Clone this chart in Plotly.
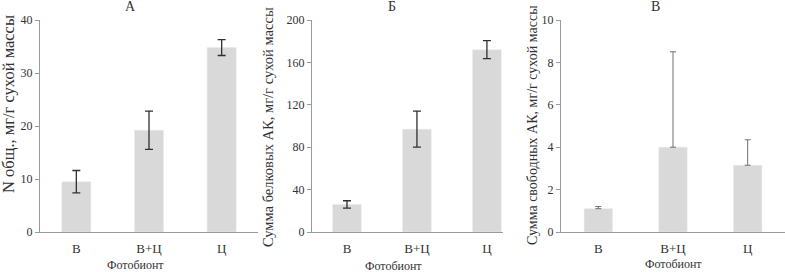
import plotly.graph_objects as go

categories = ["В", "В+Ц", "Ц"]

n_total = [9.5, 19.2, 34.8]
n_total_err = [2.1, 3.6, 1.5]

protein_aa = [26, 97, 172]
protein_aa_err = [3.5, 17, 8.5]

free_aa = [1.1, 4.0, 3.15]
free_aa_err_plus = [0.1, 4.5, 1.2]

panel_titles = ["А", "Б", "В"]
x_title = "Фотобионт"
y_titles = ["N общ., мг/г сухой массы",
            "Сумма белковых АК, мг/г сухой массы",
            "Сумма свободных АК, мг/г сухой массы"]
y_ticks = [[0, 10, 20, 30, 40], [0, 40, 80, 120, 160, 200], [0, 2, 4, 6, 8, 10]]
y_ranges = [[0, 40], [0, 200], [0, 10]]

W, H = 785, 272
FONT = "Liberation Serif"
TXT = "#333333"
BAR = "#d9d9d9"
AXC = "#9a9a9a"

def px(x):
    return x / W

def py(y):
    return 1 - y / H

fig = go.Figure()

x_domains = [[px(40), px(258)], [px(312), px(503)], [px(561), px(785)]]
x_ranges = [[-0.5, 2.5], [-0.5, 2.23], [-0.5, 2.5]]
y_domain = [py(232), py(20)]

fig.add_trace(go.Bar(x=categories, y=n_total, width=0.4, marker_color=BAR,
                     error_y=dict(type="data", array=n_total_err, color="#303030",
                                  thickness=1.3, width=4),
                     xaxis="x", yaxis="y", showlegend=False))
fig.add_trace(go.Bar(x=categories, y=protein_aa, width=0.41, marker_color=BAR,
                     error_y=dict(type="data", array=protein_aa_err, color="#303030",
                                  thickness=1.3, width=4),
                     xaxis="x2", yaxis="y2", showlegend=False))
fig.add_trace(go.Bar(x=categories, y=free_aa, width=0.38, marker_color=BAR,
                     error_y=dict(type="data", array=free_aa_err_plus,
                                  arrayminus=[0, 0, 0], symmetric=False,
                                  color="#707070", thickness=1, width=3),
                     xaxis="x3", yaxis="y3", showlegend=False))

layout = dict(
    width=W, height=H,
    margin=dict(l=0, r=0, t=0, b=0, autoexpand=False),
    plot_bgcolor="white", paper_bgcolor="white",
    font=dict(family=FONT, size=12, color=TXT),
    showlegend=False,
)

for i in range(3):
    sx = "" if i == 0 else str(i + 1)
    layout["xaxis" + sx] = dict(
        domain=x_domains[i], range=x_ranges[i], type="category",
        anchor="y" + sx, showline=True, linecolor=AXC, linewidth=1,
        ticks="", showgrid=False, zeroline=False, automargin=False,
        tickfont=dict(family=FONT, size=13, color=TXT), ticklabelstandoff=4,
    )
    layout["yaxis" + sx] = dict(
        domain=y_domain, range=y_ranges[i], tickvals=y_ticks[i],
        anchor="x" + sx, showline=True, linecolor=AXC, linewidth=1,
        ticks="outside", ticklen=4, tickcolor=AXC, showgrid=False, zeroline=False,
        automargin=False,
        tickfont=dict(family=FONT, size=12, color=TXT),
    )

fig.update_layout(**layout)

ann = []
title_pos = [(130, 6), (392, 6), (655, 6)]
xt_pos = [(135, 265), (393, 266), (673, 264)]
yt_pos = [(8, 104, 16.5), (268, 127, 14.5), (533, 125, 14)]
for i in range(3):
    ann.append(dict(text=panel_titles[i], x=px(title_pos[i][0]), y=py(title_pos[i][1]),
                    xref="paper", yref="paper", showarrow=False,
                    font=dict(family=FONT, size=14, color=TXT),
                    xanchor="center", yanchor="middle"))
    ann.append(dict(text=x_title, x=px(xt_pos[i][0]), y=py(xt_pos[i][1]),
                    xref="paper", yref="paper", showarrow=False,
                    font=dict(family=FONT, size=12, color=TXT),
                    xanchor="center", yanchor="middle"))
    ann.append(dict(text=y_titles[i], x=px(yt_pos[i][0]), y=py(yt_pos[i][1]),
                    xref="paper", yref="paper", showarrow=False, textangle=-90,
                    font=dict(family=FONT, size=yt_pos[i][2], color=TXT),
                    xanchor="center", yanchor="middle"))
fig.update_layout(annotations=ann)

fig.write_html("out.html",
               config={"displayModeBar": False},
               post_script="document.body.style.margin='0';document.body.style.overflow='hidden';")
